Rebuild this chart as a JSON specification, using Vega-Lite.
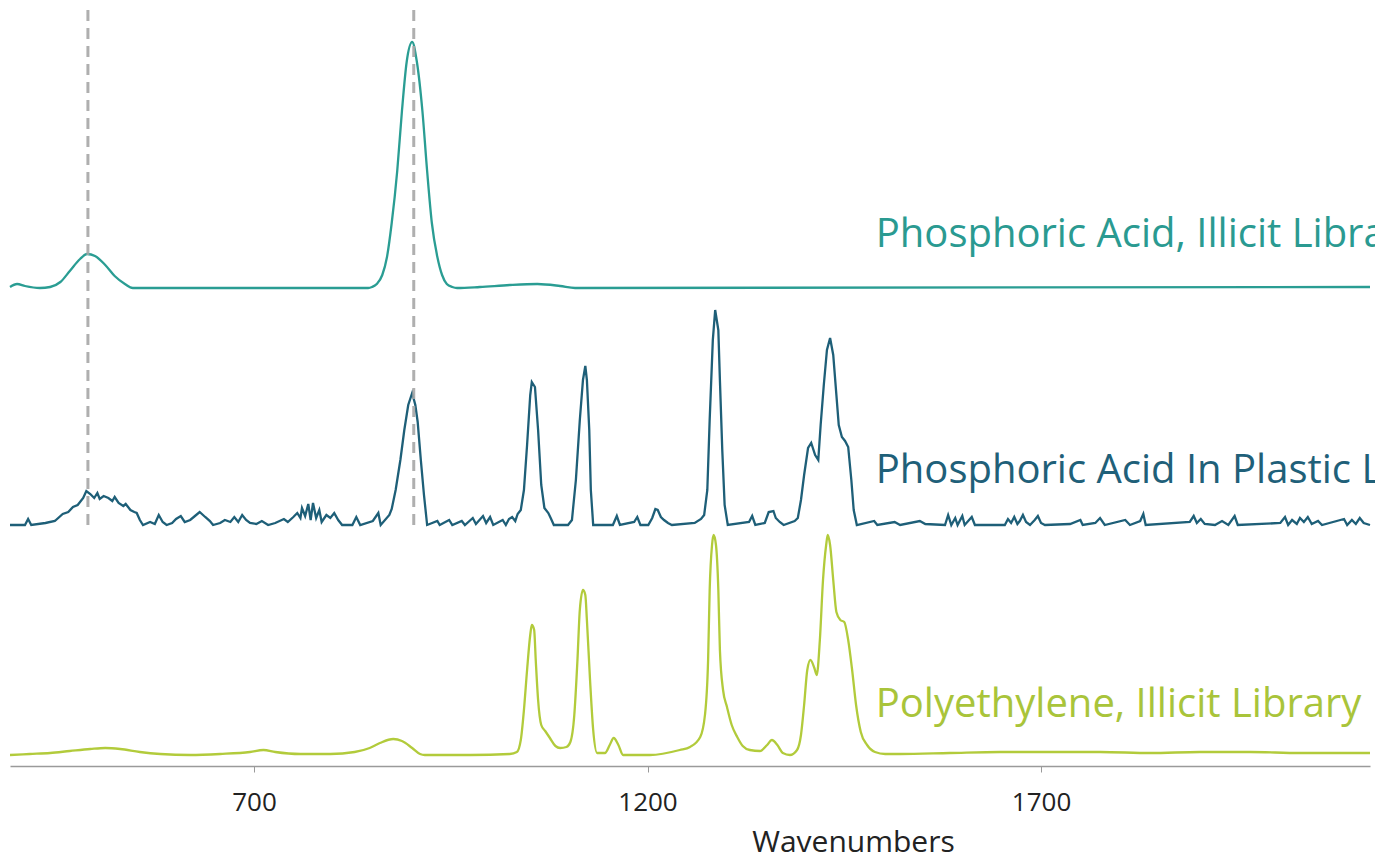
{
  "$schema": "https://vega.github.io/schema/vega-lite/v6.json",
  "autosize": "none",
  "width": 1360,
  "height": 766,
  "padding": {"left": 10, "top": 0, "right": 5, "bottom": 91},
  "background": "white",
  "config": {"view": {"stroke": null}},
  "datasets": {
    "acid": [
      {"wavenumber":390,"intensity":479},{"wavenumber":399,"intensity":482},{"wavenumber":409,"intensity":480},{"wavenumber":428,"intensity":478},{"wavenumber":441,"intensity":479},{"wavenumber":454,"intensity":484},{"wavenumber":466,"intensity":495},{"wavenumber":479,"intensity":507},{"wavenumber":488,"intensity":512},{"wavenumber":498,"intensity":510},{"wavenumber":511,"intensity":501},{"wavenumber":523,"intensity":490},{"wavenumber":536,"intensity":482},{"wavenumber":546,"intensity":478},{"wavenumber":845,"intensity":478},{"wavenumber":850,"intensity":479},{"wavenumber":856,"intensity":482},{"wavenumber":863,"intensity":491},{"wavenumber":869,"intensity":509},{"wavenumber":875,"intensity":543},{"wavenumber":882,"intensity":595},{"wavenumber":888,"intensity":655},{"wavenumber":894,"intensity":704},{"wavenumber":901,"intensity":724},{"wavenumber":907,"intensity":704},{"wavenumber":914,"intensity":655},{"wavenumber":920,"intensity":595},{"wavenumber":926,"intensity":543},{"wavenumber":933,"intensity":509},{"wavenumber":939,"intensity":491},{"wavenumber":945,"intensity":482},{"wavenumber":952,"intensity":479},{"wavenumber":958,"intensity":478},{"wavenumber":987,"intensity":479},{"wavenumber":1025,"intensity":481},{"wavenumber":1060,"intensity":482},{"wavenumber":1089,"intensity":480},{"wavenumber":1108,"intensity":478},{"wavenumber":2118,"intensity":479}
    ],
    "mixture": [
      {"wavenumber":390,"intensity":241},{"wavenumber":409,"intensity":241},{"wavenumber":413,"intensity":247},{"wavenumber":417,"intensity":241},{"wavenumber":435,"intensity":243},{"wavenumber":447,"intensity":245},{"wavenumber":457,"intensity":252},{"wavenumber":464,"intensity":254},{"wavenumber":470,"intensity":259},{"wavenumber":476,"intensity":261},{"wavenumber":483,"intensity":268},{"wavenumber":487,"intensity":275},{"wavenumber":492,"intensity":272},{"wavenumber":497,"intensity":268},{"wavenumber":501,"intensity":273},{"wavenumber":504,"intensity":267},{"wavenumber":509,"intensity":270},{"wavenumber":515,"intensity":268},{"wavenumber":520,"intensity":265},{"wavenumber":523,"intensity":269},{"wavenumber":528,"intensity":263},{"wavenumber":534,"intensity":260},{"wavenumber":537,"intensity":262},{"wavenumber":543,"intensity":256},{"wavenumber":548,"intensity":254},{"wavenumber":551,"intensity":253},{"wavenumber":555,"intensity":246},{"wavenumber":559,"intensity":241},{"wavenumber":568,"intensity":244},{"wavenumber":574,"intensity":242},{"wavenumber":579,"intensity":251},{"wavenumber":584,"intensity":244},{"wavenumber":589,"intensity":241},{"wavenumber":596,"intensity":243},{"wavenumber":601,"intensity":247},{"wavenumber":607,"intensity":250},{"wavenumber":612,"intensity":244},{"wavenumber":619,"intensity":246},{"wavenumber":625,"intensity":250},{"wavenumber":631,"intensity":254},{"wavenumber":638,"intensity":249},{"wavenumber":644,"intensity":245},{"wavenumber":648,"intensity":241},{"wavenumber":657,"intensity":243},{"wavenumber":663,"intensity":246},{"wavenumber":670,"intensity":244},{"wavenumber":675,"intensity":249},{"wavenumber":680,"intensity":244},{"wavenumber":685,"intensity":251},{"wavenumber":690,"intensity":246},{"wavenumber":695,"intensity":243},{"wavenumber":703,"intensity":242},{"wavenumber":710,"intensity":245},{"wavenumber":718,"intensity":241},{"wavenumber":727,"intensity":243},{"wavenumber":738,"intensity":247},{"wavenumber":743,"intensity":244},{"wavenumber":750,"intensity":249},{"wavenumber":755,"intensity":253},{"wavenumber":759,"intensity":248},{"wavenumber":761,"intensity":258},{"wavenumber":765,"intensity":250},{"wavenumber":769,"intensity":262},{"wavenumber":772,"intensity":246},{"wavenumber":775,"intensity":263},{"wavenumber":779,"intensity":248},{"wavenumber":783,"intensity":256},{"wavenumber":786,"intensity":244},{"wavenumber":792,"intensity":251},{"wavenumber":797,"intensity":248},{"wavenumber":802,"intensity":253},{"wavenumber":807,"intensity":246},{"wavenumber":812,"intensity":241},{"wavenumber":825,"intensity":241},{"wavenumber":830,"intensity":249},{"wavenumber":835,"intensity":241},{"wavenumber":851,"intensity":245},{"wavenumber":858,"intensity":253},{"wavenumber":861,"intensity":241},{"wavenumber":872,"intensity":251},{"wavenumber":875,"intensity":257},{"wavenumber":880,"intensity":276},{"wavenumber":886,"intensity":306},{"wavenumber":891,"intensity":336},{"wavenumber":896,"intensity":361},{"wavenumber":901,"intensity":373},{"wavenumber":905,"intensity":361},{"wavenumber":908,"intensity":344},{"wavenumber":912,"intensity":306},{"wavenumber":916,"intensity":271},{"wavenumber":920,"intensity":241},{"wavenumber":933,"intensity":245},{"wavenumber":936,"intensity":241},{"wavenumber":948,"intensity":246},{"wavenumber":952,"intensity":241},{"wavenumber":964,"intensity":245},{"wavenumber":968,"intensity":241},{"wavenumber":978,"intensity":248},{"wavenumber":982,"intensity":242},{"wavenumber":991,"intensity":250},{"wavenumber":995,"intensity":243},{"wavenumber":1000,"intensity":249},{"wavenumber":1004,"intensity":241},{"wavenumber":1016,"intensity":246},{"wavenumber":1020,"intensity":241},{"wavenumber":1024,"intensity":247},{"wavenumber":1028,"intensity":249},{"wavenumber":1032,"intensity":245},{"wavenumber":1035,"intensity":252},{"wavenumber":1039,"intensity":256},{"wavenumber":1043,"intensity":276},{"wavenumber":1047,"intensity":321},{"wavenumber":1051,"intensity":371},{"wavenumber":1053,"intensity":384},{"wavenumber":1057,"intensity":379},{"wavenumber":1061,"intensity":336},{"wavenumber":1065,"intensity":281},{"wavenumber":1069,"intensity":258},{"wavenumber":1074,"intensity":253},{"wavenumber":1077,"intensity":248},{"wavenumber":1081,"intensity":241},{"wavenumber":1099,"intensity":241},{"wavenumber":1104,"intensity":246},{"wavenumber":1109,"intensity":286},{"wavenumber":1114,"intensity":346},{"wavenumber":1118,"intensity":386},{"wavenumber":1121,"intensity":400},{"wavenumber":1123,"intensity":386},{"wavenumber":1126,"intensity":336},{"wavenumber":1128,"intensity":276},{"wavenumber":1131,"intensity":241},{"wavenumber":1156,"intensity":241},{"wavenumber":1161,"intensity":250},{"wavenumber":1165,"intensity":241},{"wavenumber":1183,"intensity":244},{"wavenumber":1187,"intensity":249},{"wavenumber":1191,"intensity":241},{"wavenumber":1201,"intensity":241},{"wavenumber":1206,"intensity":248},{"wavenumber":1210,"intensity":257},{"wavenumber":1213,"intensity":256},{"wavenumber":1217,"intensity":249},{"wavenumber":1221,"intensity":246},{"wavenumber":1226,"intensity":243},{"wavenumber":1231,"intensity":241},{"wavenumber":1260,"intensity":243},{"wavenumber":1268,"intensity":247},{"wavenumber":1272,"intensity":251},{"wavenumber":1276,"intensity":276},{"wavenumber":1279,"intensity":346},{"wavenumber":1283,"intensity":426},{"wavenumber":1286,"intensity":456},{"wavenumber":1290,"intensity":436},{"wavenumber":1292,"intensity":386},{"wavenumber":1295,"intensity":316},{"wavenumber":1298,"intensity":261},{"wavenumber":1302,"intensity":241},{"wavenumber":1329,"intensity":244},{"wavenumber":1333,"intensity":250},{"wavenumber":1337,"intensity":241},{"wavenumber":1349,"intensity":243},{"wavenumber":1354,"intensity":254},{"wavenumber":1360,"intensity":255},{"wavenumber":1363,"intensity":248},{"wavenumber":1368,"intensity":244},{"wavenumber":1373,"intensity":241},{"wavenumber":1387,"intensity":245},{"wavenumber":1391,"intensity":248},{"wavenumber":1395,"intensity":266},{"wavenumber":1399,"intensity":291},{"wavenumber":1404,"intensity":318},{"wavenumber":1408,"intensity":323},{"wavenumber":1413,"intensity":311},{"wavenumber":1417,"intensity":306},{"wavenumber":1420,"intensity":341},{"wavenumber":1424,"intensity":381},{"wavenumber":1428,"intensity":416},{"wavenumber":1432,"intensity":428},{"wavenumber":1436,"intensity":411},{"wavenumber":1440,"intensity":371},{"wavenumber":1443,"intensity":341},{"wavenumber":1447,"intensity":329},{"wavenumber":1451,"intensity":325},{"wavenumber":1455,"intensity":319},{"wavenumber":1459,"intensity":286},{"wavenumber":1462,"intensity":256},{"wavenumber":1466,"intensity":241},{"wavenumber":1488,"intensity":245},{"wavenumber":1492,"intensity":241},{"wavenumber":1514,"intensity":244},{"wavenumber":1521,"intensity":241},{"wavenumber":1546,"intensity":245},{"wavenumber":1553,"intensity":242},{"wavenumber":1578,"intensity":241},{"wavenumber":1582,"intensity":251},{"wavenumber":1586,"intensity":241},{"wavenumber":1591,"intensity":248},{"wavenumber":1594,"intensity":241},{"wavenumber":1600,"intensity":250},{"wavenumber":1603,"intensity":241},{"wavenumber":1612,"intensity":249},{"wavenumber":1616,"intensity":241},{"wavenumber":1654,"intensity":241},{"wavenumber":1658,"intensity":247},{"wavenumber":1662,"intensity":243},{"wavenumber":1666,"intensity":249},{"wavenumber":1670,"intensity":242},{"wavenumber":1673,"intensity":245},{"wavenumber":1677,"intensity":251},{"wavenumber":1681,"intensity":244},{"wavenumber":1686,"intensity":241},{"wavenumber":1692,"intensity":246},{"wavenumber":1696,"intensity":250},{"wavenumber":1700,"intensity":243},{"wavenumber":1705,"intensity":241},{"wavenumber":1737,"intensity":242},{"wavenumber":1750,"intensity":246},{"wavenumber":1753,"intensity":241},{"wavenumber":1769,"intensity":243},{"wavenumber":1775,"intensity":248},{"wavenumber":1781,"intensity":241},{"wavenumber":1807,"intensity":246},{"wavenumber":1813,"intensity":241},{"wavenumber":1826,"intensity":245},{"wavenumber":1830,"intensity":252},{"wavenumber":1833,"intensity":241},{"wavenumber":1889,"intensity":244},{"wavenumber":1894,"intensity":250},{"wavenumber":1898,"intensity":243},{"wavenumber":1903,"intensity":247},{"wavenumber":1908,"intensity":242},{"wavenumber":1921,"intensity":241},{"wavenumber":1930,"intensity":245},{"wavenumber":1938,"intensity":241},{"wavenumber":1946,"intensity":250},{"wavenumber":1950,"intensity":241},{"wavenumber":2004,"intensity":243},{"wavenumber":2010,"intensity":249},{"wavenumber":2014,"intensity":241},{"wavenumber":2019,"intensity":246},{"wavenumber":2025,"intensity":242},{"wavenumber":2029,"intensity":248},{"wavenumber":2034,"intensity":244},{"wavenumber":2039,"intensity":249},{"wavenumber":2044,"intensity":242},{"wavenumber":2052,"intensity":245},{"wavenumber":2057,"intensity":241},{"wavenumber":2085,"intensity":247},{"wavenumber":2089,"intensity":241},{"wavenumber":2095,"intensity":246},{"wavenumber":2100,"intensity":242},{"wavenumber":2105,"intensity":248},{"wavenumber":2110,"intensity":243},{"wavenumber":2118,"intensity":241}
    ],
    "polyethylene": [
      {"wavenumber":390,"intensity":11},{"wavenumber":415,"intensity":12},{"wavenumber":441,"intensity":13},{"wavenumber":466,"intensity":15},{"wavenumber":492,"intensity":17},{"wavenumber":511,"intensity":18},{"wavenumber":530,"intensity":17},{"wavenumber":555,"intensity":14},{"wavenumber":581,"intensity":12},{"wavenumber":619,"intensity":11},{"wavenumber":657,"intensity":12},{"wavenumber":695,"intensity":14},{"wavenumber":712,"intensity":16},{"wavenumber":727,"intensity":14},{"wavenumber":759,"intensity":12},{"wavenumber":797,"intensity":12},{"wavenumber":828,"intensity":14},{"wavenumber":847,"intensity":18},{"wavenumber":860,"intensity":23},{"wavenumber":877,"intensity":27},{"wavenumber":888,"intensity":25},{"wavenumber":901,"intensity":18},{"wavenumber":911,"intensity":12},{"wavenumber":917,"intensity":11},{"wavenumber":975,"intensity":11},{"wavenumber":1025,"intensity":12},{"wavenumber":1034,"intensity":14},{"wavenumber":1039,"intensity":26},{"wavenumber":1043,"intensity":56},{"wavenumber":1047,"intensity":96},{"wavenumber":1051,"intensity":131},{"wavenumber":1053,"intensity":141},{"wavenumber":1056,"intensity":136},{"wavenumber":1058,"intensity":106},{"wavenumber":1061,"intensity":66},{"wavenumber":1065,"intensity":41},{"wavenumber":1070,"intensity":35},{"wavenumber":1076,"intensity":28},{"wavenumber":1083,"intensity":20},{"wavenumber":1089,"intensity":18},{"wavenumber":1097,"intensity":19},{"wavenumber":1102,"intensity":24},{"wavenumber":1107,"intensity":51},{"wavenumber":1111,"intensity":106},{"wavenumber":1114,"intensity":156},{"wavenumber":1118,"intensity":176},{"wavenumber":1121,"intensity":171},{"wavenumber":1123,"intensity":146},{"wavenumber":1127,"intensity":86},{"wavenumber":1131,"intensity":36},{"wavenumber":1136,"intensity":13},{"wavenumber":1146,"intensity":13},{"wavenumber":1152,"intensity":21},{"wavenumber":1157,"intensity":28},{"wavenumber":1163,"intensity":21},{"wavenumber":1169,"intensity":11},{"wavenumber":1203,"intensity":11},{"wavenumber":1241,"intensity":16},{"wavenumber":1254,"intensity":19},{"wavenumber":1267,"intensity":29},{"wavenumber":1273,"intensity":51},{"wavenumber":1277,"intensity":106},{"wavenumber":1279,"intensity":176},{"wavenumber":1282,"intensity":221},{"wavenumber":1284,"intensity":231},{"wavenumber":1287,"intensity":221},{"wavenumber":1290,"intensity":176},{"wavenumber":1292,"intensity":116},{"wavenumber":1296,"intensity":76},{"wavenumber":1301,"intensity":59},{"wavenumber":1307,"intensity":41},{"wavenumber":1314,"intensity":29},{"wavenumber":1321,"intensity":20},{"wavenumber":1330,"intensity":16},{"wavenumber":1343,"intensity":15},{"wavenumber":1352,"intensity":21},{"wavenumber":1358,"intensity":26},{"wavenumber":1365,"intensity":21},{"wavenumber":1372,"intensity":13},{"wavenumber":1381,"intensity":11},{"wavenumber":1390,"intensity":16},{"wavenumber":1395,"intensity":31},{"wavenumber":1399,"intensity":61},{"wavenumber":1403,"intensity":96},{"wavenumber":1407,"intensity":106},{"wavenumber":1412,"intensity":98},{"wavenumber":1415,"intensity":91},{"wavenumber":1419,"intensity":126},{"wavenumber":1423,"intensity":186},{"wavenumber":1427,"intensity":221},{"wavenumber":1429,"intensity":231},{"wavenumber":1432,"intensity":221},{"wavenumber":1436,"intensity":186},{"wavenumber":1440,"intensity":154},{"wavenumber":1445,"intensity":146},{"wavenumber":1450,"intensity":144},{"wavenumber":1455,"intensity":126},{"wavenumber":1460,"intensity":96},{"wavenumber":1465,"intensity":61},{"wavenumber":1471,"intensity":34},{"wavenumber":1479,"intensity":21},{"wavenumber":1489,"intensity":14},{"wavenumber":1502,"intensity":12},{"wavenumber":1521,"intensity":12},{"wavenumber":1584,"intensity":13},{"wavenumber":1648,"intensity":14},{"wavenumber":1711,"intensity":14},{"wavenumber":1775,"intensity":14},{"wavenumber":1839,"intensity":13},{"wavenumber":1902,"intensity":14},{"wavenumber":1966,"intensity":14},{"wavenumber":2029,"intensity":13},{"wavenumber":2118,"intensity":13}
    ],
    "labels": [
      {"label":"Phosphoric Acid, Illicit Library","wavenumber":1490,"intensity":519,"series":"acid"},
      {"label":"Phosphoric Acid In Plastic Library","wavenumber":1490,"intensity":283,"series":"mixture"},
      {"label":"Polyethylene, Illicit Library","wavenumber":1490,"intensity":49,"series":"polyethylene"}
    ],
    "markers": [
      {"wavenumber":489,"upper":756,"lower":236},{"wavenumber":903,"upper":756,"lower":236}
    ]
  },
  "layer": [
    {
      "data": {"name": "acid"},
      "mark": {"type": "line", "color": "#2a9d93", "strokeWidth": 2.3, "interpolate": "monotone"},
      "encoding": {
        "x": {"field": "wavenumber", "type": "quantitative"},
        "y": {"field": "intensity", "type": "quantitative"}
      }
    },
    {
      "data": {"name": "mixture"},
      "mark": {"type": "line", "color": "#1e5f78", "strokeWidth": 2.3, "interpolate": "linear"},
      "encoding": {
        "x": {"field": "wavenumber", "type": "quantitative"},
        "y": {"field": "intensity", "type": "quantitative"}
      }
    },
    {
      "data": {"name": "polyethylene"},
      "mark": {"type": "line", "color": "#b2cb3b", "strokeWidth": 2.3, "interpolate": "monotone"},
      "encoding": {
        "x": {"field": "wavenumber", "type": "quantitative"},
        "y": {"field": "intensity", "type": "quantitative"}
      }
    },
    {
      "data": {"name": "markers"},
      "mark": {"type": "rule", "color": "#a6a6a6", "strokeWidth": 3, "strokeDash": [11, 7], "opacity": 0.9},
      "encoding": {
        "x": {"field": "wavenumber", "type": "quantitative"},
        "y": {"field": "upper", "type": "quantitative"},
        "y2": {"field": "lower"}
      }
    },
    {
      "data": {"name": "labels"},
      "mark": {"type": "text", "align": "left", "baseline": "alphabetic", "font": "Open Sans", "fontSize": 40},
      "encoding": {
        "x": {"field": "wavenumber", "type": "quantitative"},
        "y": {"field": "intensity", "type": "quantitative"},
        "text": {"field": "label"},
        "color": {"field": "series", "type": "nominal", "scale": {"domain": ["acid", "mixture", "polyethylene"], "range": ["#2a9a91", "#1f6079", "#a9c43a"]}, "legend": null}
      }
    }
  ],
  "encoding": {
    "x": {
      "field": "wavenumber", "type": "quantitative",
      "scale": {"domain": [390, 2118], "nice": false, "zero": false},
      "axis": {
        "values": [700, 1200, 1700], "format": "d", "title": "Wavenumbers", "grid": false,
        "domainColor": "#9a9a9a", "domainWidth": 1.5, "tickColor": "#9a9a9a", "tickSize": 6, "tickWidth": 1,
        "labelFont": "Open Sans", "labelFontSize": 26, "labelColor": "#222222", "labelBaseline": "alphabetic", "labelPadding": 38,
        "titleFont": "Open Sans", "titleFontSize": 30, "titleFontWeight": "normal", "titleColor": "#222222",
        "titleX": 843, "titleY": 85, "titleBaseline": "alphabetic", "titleAlign": "center"
      }
    },
    "y": {"field": "intensity", "type": "quantitative", "scale": {"domain": [0, 766], "nice": false}, "axis": null}
  }
}
